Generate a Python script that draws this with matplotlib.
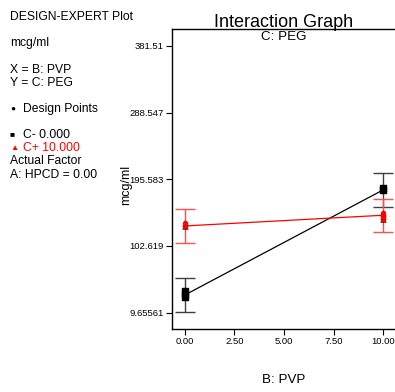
import matplotlib
matplotlib.use("Agg")
import matplotlib.pyplot as plt

# Data
x_levels = [0.0, 10.0]
low_mean = [34.3, 180.7]      # C- 0.000
low_err = [24.0, 23.5]
high_mean = [130.5, 145.4]    # C+ 10.000
high_err = [23.3, 23.3]
dp_low_x = [0, 0, 0, 10, 10]
dp_low_y = [31.0, 35.5, 40.0, 181.0, 183.0]
dp_high_x = [0, 0, 10, 10, 10]
dp_high_y = [131.0, 135.0, 140.0, 144.0, 148.0]
yticks = [9.65561, 102.619, 195.583, 288.547, 381.51]
ytick_labels = ["9.65561", "102.619", "195.583", "288.547", "381.51"]
xticks = [0.0, 2.5, 5.0, 7.5, 10.0]
xtick_labels = ["0.00", "2.50", "5.00", "7.50", "10.00"]

plt.rcParams['font.family'] = ['Liberation Sans', 'DejaVu Sans']
fig = plt.figure(figsize=(3.95, 3.92), dpi=100)
ax = fig.add_axes([0.435, 0.161, 0.568, 0.765])

ax.errorbar(x_levels, low_mean, yerr=low_err, fmt='none', ecolor='#404040',
            elinewidth=1.0, capsize=7, capthick=1.0, zorder=2)
ax.errorbar(x_levels, high_mean, yerr=high_err, fmt='none', ecolor='#ff5050',
            elinewidth=1.0, capsize=7, capthick=1.0, zorder=2)
ax.plot(x_levels, low_mean, color='black', lw=0.9, zorder=3)
ax.plot(x_levels, high_mean, color='red', lw=0.9, zorder=3)
ax.scatter(dp_low_x, dp_low_y, marker='s', s=14, color='black', zorder=4)
ax.scatter(dp_high_x, dp_high_y, marker='^', s=16, color='red',
           edgecolors='black', linewidths=0.4, zorder=4)
ax.scatter(dp_high_x, dp_high_y, marker='o', s=8, color='red', zorder=5)

ax.set_xlim(-0.66, 10.66)
ax.set_ylim(-13.0, 405.0)
ax.set_xticks(xticks)
ax.set_xticklabels(xtick_labels)
ax.set_yticks(yticks)
ax.set_yticklabels(ytick_labels)
ax.tick_params(labelsize=6.8, length=4, width=0.8, direction='out', pad=2)
ax.spines['right'].set_visible(False)
for s in ['left', 'bottom', 'top']:
    ax.spines[s].set_linewidth(1.0)

def ty(p):
    return 1 - p / 392

fig.text(126 / 395, ty(184.5), 'mcg/ml', fontsize=9, rotation=90,
         ha='center', va='center')
fig.text(0.719, ty(392 - 6), 'B: PVP', ha='center', va='bottom', fontsize=9.6)
fig.text(0.719, ty(27), 'Interaction Graph', ha='center', va='baseline', fontsize=13)
fig.text(0.719, ty(37), 'C: PEG', ha='center', va='center', fontsize=9.6)

lx = 10 / 395
fs = 8.7
fig.text(lx, ty(17), 'DESIGN-EXPERT Plot', fontsize=fs, va='center')
fig.text(lx, ty(43), 'mcg/ml', fontsize=fs, va='center')
fig.text(lx, ty(70), 'X = B: PVP', fontsize=fs, va='center')
fig.text(lx, ty(83), 'Y = C: PEG', fontsize=fs, va='center')
fig.text(lx, ty(109), '\u25CF', fontsize=6, va='center')
fig.text(lx + 13 / 395, ty(109), 'Design Points', fontsize=fs, va='center')
fig.text(lx, ty(135), '\u25A0', fontsize=6, va='center')
fig.text(lx + 13 / 395, ty(135), 'C- 0.000', fontsize=fs, va='center')
fig.text(lx, ty(148), '\u25B2', fontsize=6, va='center', color='red')
fig.text(lx + 13 / 395, ty(148), 'C+ 10.000', fontsize=fs, va='center', color='red')
fig.text(lx, ty(161), 'Actual Factor', fontsize=fs, va='center')
fig.text(lx, ty(175), 'A: HPCD = 0.00', fontsize=fs, va='center')

fig.savefig('out.png', dpi=100)
